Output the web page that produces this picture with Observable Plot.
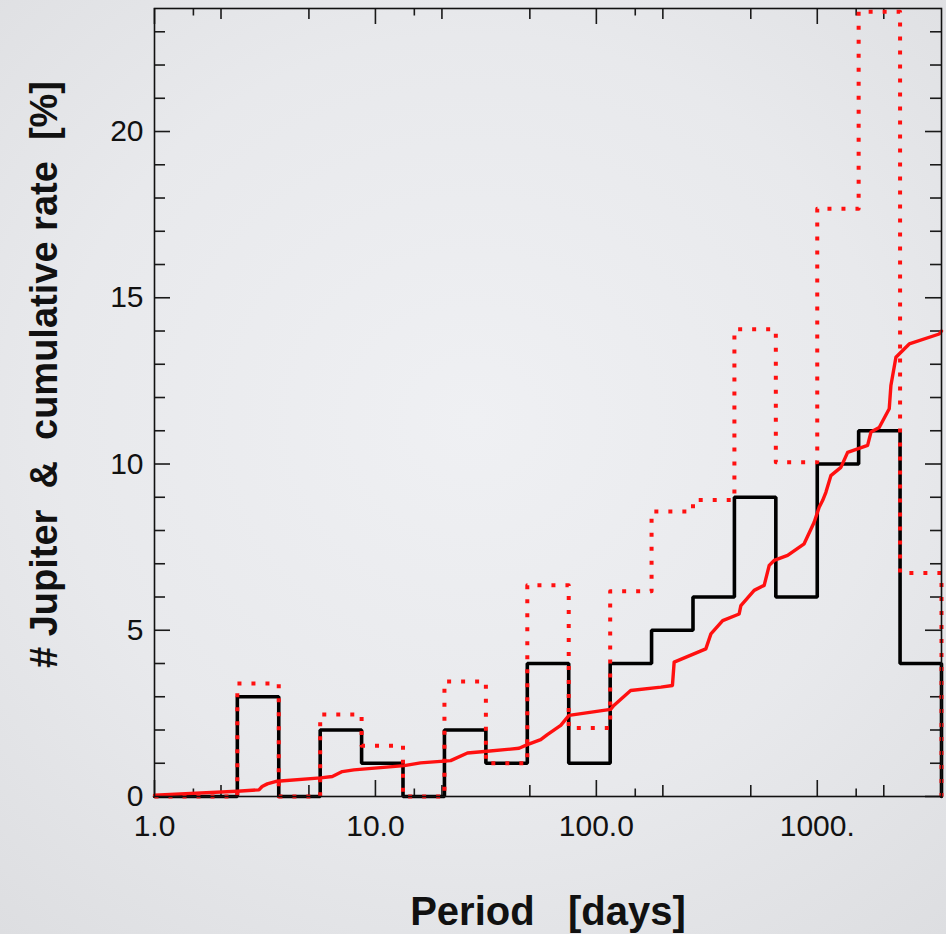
<!DOCTYPE html>
<html><head><meta charset="utf-8">
<script src="https://cdn.jsdelivr.net/npm/d3@7"></script>
<script src="https://cdn.jsdelivr.net/npm/@observablehq/plot@0.6"></script>
<style>
html,body{margin:0;padding:0;width:946px;height:934px;overflow:hidden;}
body{background: radial-gradient(ellipse 80% 75% at 50% 45%, #eff0f3 0%, #e8e9ec 55%, #dcdde0 100%);}
#chart svg{display:block;}
</style></head><body><div id="chart"></div>
<script>
// Bin edges of the period histogram [days]
const binEdges = [1.0, 1.540, 2.371, 3.651, 5.623, 8.658, 13.33, 20.53, 31.62, 48.69, 74.98, 115.5, 177.8, 273.8, 421.6, 649.2, 999.7, 1539, 2370, 3650];
// Number of Jupiters per bin (black histogram)
const jupiterCounts = [0, 0, 3, 0, 2, 1, 0, 2, 1, 4, 1, 4, 5, 6, 9, 6, 10, 11, 4];
// Completeness-corrected rate per bin (red dotted histogram) [%]
const correctedRate = [0, 0, 3.4, 0, 2.47, 1.53, 0, 3.46, 1.0, 6.35, 2.06, 6.17, 8.57, 8.92, 14.05, 10.05, 17.68, 23.6, 6.72];
// Cumulative rate curve (red solid)
const cumPeriod = [1.0, 2.37, 2.97, 3.07, 3.24, 3.59, 5.65, 6.38, 7.08, 7.99, 13.5, 16.0, 21.9, 26.1, 32.1, 44.7, 48.7, 56.0, 60.0, 69.0, 75.2, 116, 120, 143, 196, 221, 225, 313, 330, 373, 443, 451, 518, 575, 606, 638, 734, 872, 968, 1020, 1057, 1094, 1152, 1279, 1372, 1690, 1750, 1907, 2117, 2154, 2270, 2608, 3565, 3650];
const cumRate   = [0.04, 0.16, 0.20, 0.30, 0.38, 0.46, 0.56, 0.60, 0.75, 0.80, 0.93, 1.01, 1.08, 1.31, 1.36, 1.45, 1.56, 1.71, 1.86, 2.14, 2.44, 2.62, 2.74, 3.19, 3.29, 3.34, 4.04, 4.44, 4.89, 5.29, 5.49, 5.74, 6.20, 6.35, 6.95, 7.10, 7.25, 7.60, 8.25, 8.70, 8.90, 9.15, 9.65, 9.90, 10.35, 10.56, 10.96, 11.10, 11.66, 12.36, 13.21, 13.61, 13.91, 14.0];

const xTicksMajor = [1, 10, 100, 1000];
const xTickLabels = ["1.0", "10.0", "100.0", "1000."];
const xTicksMinor = [2, 5, 20, 50, 200, 500, 2000];
const xTicksSmall = [1.5, 15, 150, 1500];
const yTicksMajor = [0, 5, 10, 15, 20];
const yTickLabels = ["0", "5", "10", "15", "20"];
const yTicksMinor = [1, 2, 3, 4, 6, 7, 8, 9, 11, 12, 13, 14, 16, 17, 18, 19, 21, 22, 23];
const xTitle = "Period\u00a0\u00a0\u00a0[days]";
const yTitle = "#\u00a0Jupiter\u00a0\u00a0&\u00a0\u00a0cumulative\u00a0rate\u00a0\u00a0[%]";

const W = 946, Hgt = 934, mL = 154, mR = 5, mT = 8, mB = 138;
const FH = Hgt - mT - mB, FW = W - mL - mR;

function steps(vals) {
  const pts = vals.map((v, i) => ({x: binEdges[i], y: v}));
  const n = vals.length;
  pts.push({x: binEdges[n], y: vals[n - 1]});
  pts.push({x: binEdges[n], y: 0});
  return pts;
}
const cum = cumPeriod.map((p, i) => ({x: p, y: cumRate[i]}));

const tickStyle = {stroke: "#1a1a1a", strokeWidth: 1.6};
function xTickMarks(ticks, len) {
  return [
    Plot.ruleX(ticks, {insetTop: FH - len, ...tickStyle}),
    Plot.ruleX(ticks, {insetBottom: FH - len, ...tickStyle})
  ];
}
function yTickMarks(ticks, len) {
  return [
    Plot.ruleY(ticks, {insetRight: FW - len, ...tickStyle}),
    Plot.ruleY(ticks, {insetLeft: FW - len, ...tickStyle})
  ];
}

const chart = Plot.plot({
  width: W, height: Hgt,
  marginLeft: mL, marginRight: mR, marginTop: mT, marginBottom: mB,
  style: {fontFamily: "'Liberation Sans', Arial, Helvetica, sans-serif", background: "transparent", color: "#111", overflow: "visible"},
  x: {type: "log", domain: [1, 3650]},
  y: {domain: [0, 23.7]},
  marks: [
    ...xTickMarks(xTicksMajor, 16),
    ...xTickMarks(xTicksMinor, 11),
    ...xTickMarks(xTicksSmall, 7.5),
    ...yTickMarks(yTicksMajor, 16),
    ...yTickMarks(yTicksMinor, 11),
    Plot.line(steps(jupiterCounts), {x: "x", y: "y", curve: "step-after", stroke: "#000", strokeWidth: 3.6, strokeLinejoin: "miter"}),
    Plot.line(steps(correctedRate), {x: "x", y: "y", curve: "step-after", stroke: "#ff1010", strokeWidth: 4, strokeDasharray: "4,10", strokeLinecap: "butt"}),
    Plot.line(cum, {x: "x", y: "y", stroke: "#ff1010", strokeWidth: 3.4, strokeLinejoin: "round"}),
    Plot.frame({stroke: "#111", strokeWidth: 1.6}),
    Plot.axisX(xTicksMajor, {tickSize: 0, tickPadding: 18, fontSize: 30, label: null, tickFormat: d => xTickLabels[xTicksMajor.indexOf(d)]}),
    Plot.axisY(yTicksMajor, {tickSize: 0, tickPadding: 11, fontSize: 30, label: null, tickFormat: d => yTickLabels[yTicksMajor.indexOf(d)]}),
    Plot.text([xTitle], {frameAnchor: "bottom", text: d => d, dy: 116, textAnchor: "middle", lineAnchor: "middle", fontSize: 40, fontWeight: "bold", fill: "#111"}),
    Plot.text([yTitle], {frameAnchor: "left", text: d => d, rotate: -90, dx: -110, dy: -28, textAnchor: "middle", lineAnchor: "middle", fontSize: 38, fontWeight: "bold", fill: "#111"})
  ]
});
document.getElementById("chart").appendChild(chart);
</script>
</body></html>
